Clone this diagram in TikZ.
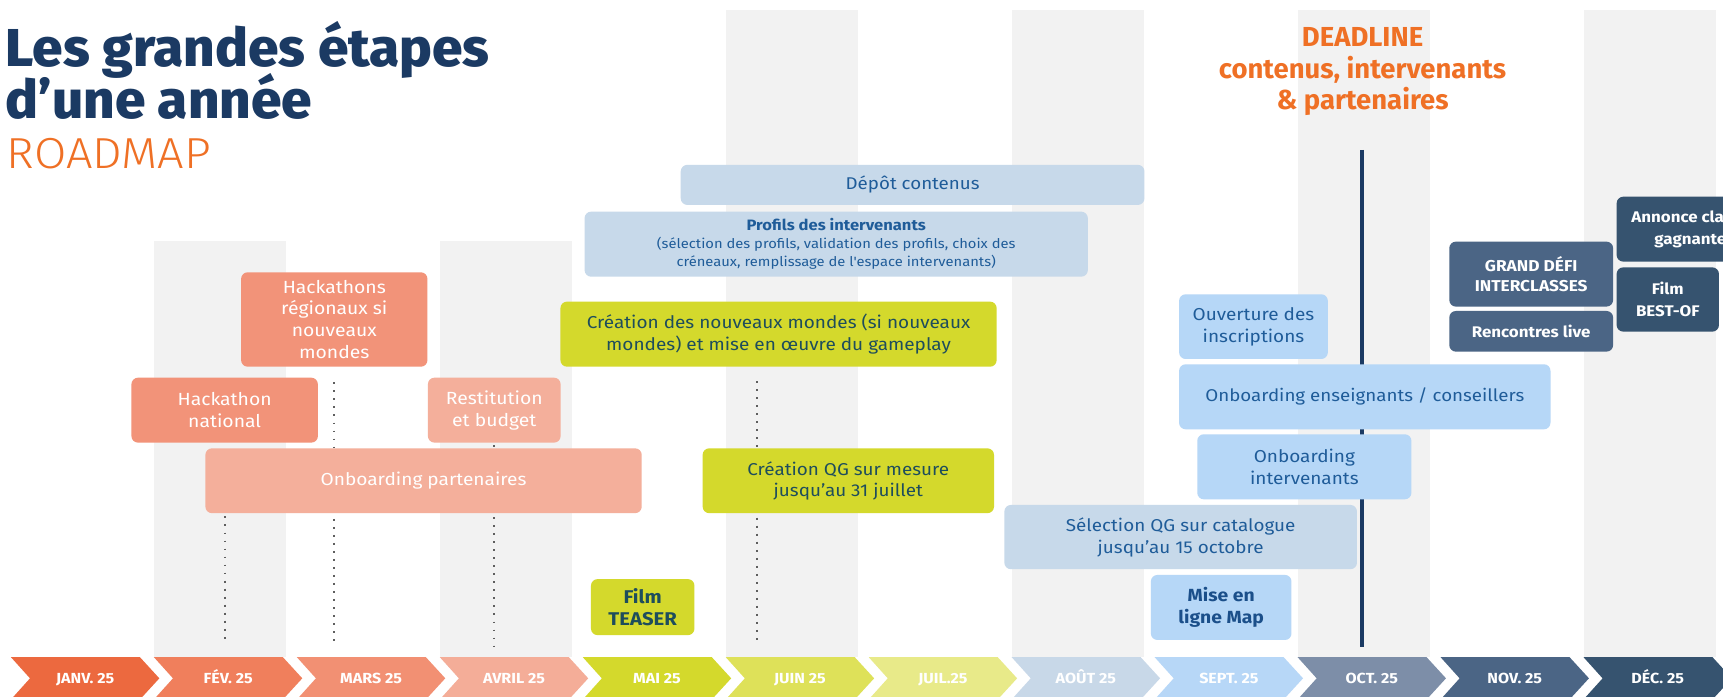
\documentclass[tikz,border=0pt]{standalone}
\usepackage{fontspec}
\setmainfont{Fira Sans}[FakeStretch=1.1]
\newfontfamily\plainsans{Fira Sans}
\newfontfamily\heavyfont{Fira Sans ExtraBold}[FakeStretch=1.03]
\newfontfamily\lightfont{Fira Sans Light}[FakeStretch=1.08]
\usetikzlibrary{backgrounds,calc}

\definecolor{navy}{HTML}{1B3A63}
\definecolor{orng}{HTML}{EF7025}
\definecolor{stripe}{HTML}{F2F2F2}
\definecolor{salmon}{HTML}{F29379}
\definecolor{lsalmon}{HTML}{F4AF9B}
\definecolor{lime}{HTML}{D4D92C}
\definecolor{grayblue}{HTML}{C7D9EA}
\definecolor{skyblue}{HTML}{B6D7F7}
\definecolor{slate}{HTML}{4B6585}
\definecolor{deepslate}{HTML}{36536F}
\definecolor{bluetext}{HTML}{1F5C99}
\definecolor{boldblue}{HTML}{1B4F8A}
\definecolor{tealtext}{HTML}{1E4D5C}
\definecolor{dotgray}{HTML}{5E5E5E}
\definecolor{mA}{HTML}{EC693F}
\definecolor{mB}{HTML}{F07F5C}
\definecolor{mC}{HTML}{F29073}
\definecolor{mD}{HTML}{F4AD98}
\definecolor{mE}{HTML}{D4D92C}
\definecolor{mF}{HTML}{DEE159}
\definecolor{mG}{HTML}{E8EA89}
\definecolor{mH}{HTML}{C8D8E8}
\definecolor{mI}{HTML}{B7D7F7}
\definecolor{mJ}{HTML}{7D8EA8}
\definecolor{mK}{HTML}{4B6585}
\definecolor{mL}{HTML}{36536F}

\newcommand\myfs[2]{\fontsize{#1}{#2}\selectfont}

\tikzset{
  box/.style={rectangle, rounded corners=6pt, inner sep=0pt, align=center},
  monthlabel/.style={inner sep=0pt, anchor=base, text=white, font=\bfseries\myfs{13.3}{15}},
  dots/.style={dotgray, line width=1.7pt, dash pattern=on 1.7pt off 5.6pt},
  deadlinebar/.style={navy, line width=3.3pt},
}

\begin{document}
\begin{tikzpicture}[x=1pt, y=-1pt]
\useasboundingbox (0,0) rectangle (1568,634);
\clip (0,0) rectangle (1568,634);

% titles
\node[anchor=base west, inner sep=0pt, text=navy, font=\heavyfont\myfs{48.5}{50}] (title1) at (5,60.7) {Les grandes étapes};
\node[anchor=base west, inner sep=0pt, text=navy, font=\heavyfont\myfs{48.5}{50}] (title2) at (5,107.7) {d’une année};
\node[anchor=base west, inner sep=0pt, text=orng, font=\lightfont\myfs{39.5}{42}] (roadmap) at (6,153) {ROADMAP};

\node[anchor=north, inner sep=0pt, align=center, text=orng, font=\plainsans\bfseries\myfs{25}{29}] (deadline) at (1240,24.5) {DEADLINE\\contenus, intervenants\\\& partenaires};

% months
\foreach \i/\col/\lab in {0/mA/JANV. 25, 1/mB/FÉV. 25, 2/mC/MARS 25, 3/mD/AVRIL 25, 4/mE/MAI 25, 5/mF/JUIN 25, 6/mG/JUIL.25, 7/mH/AOÛT 25, 8/mI/SEPT. 25, 9/mJ/OCT. 25, 10/mK/NOV. 25, 11/mL/DÉC. 25} {
  \pgfmathsetmacro\L{10+130.1*\i}
  \fill[\col] (\L,598.1) -- ++(117.4,0) -- ++(17.6,19.2) -- ++(-17.6,19.2) -- ++(-117.4,0) -- ++(17.3,-19.2) -- cycle;
  \node[monthlabel] (mon\i) at (\L+67.5,621.8) {\lab};
}

% boxes
\node[box, fill=grayblue, text=bluetext, minimum width=422pt, minimum height=36.5pt, font=\myfs{15.5}{19}] (depot) at (830.5,168.25) {Dépôt contenus};
\node[box, fill=grayblue, text=bluetext, minimum width=458pt, minimum height=59.2pt, font=\myfs{12.2}{16.5}] (profils) at (761,222.2) {{\bfseries\myfs{13.7}{16.5}Profils des intervenants}\\(sélection des profils, validation des profils, choix des\\créneaux, remplissage de l\textquotesingle espace intervenants)};

\node[box, fill=salmon, text=white, minimum width=169.6pt, minimum height=85.9pt, font=\myfs{16}{20}] (hackreg) at (304.2,290.75) {Hackathons\\régionaux si\\nouveaux\\mondes};
\node[box, fill=salmon, text=white, minimum width=169.7pt, minimum height=59.1pt, font=\myfs{16}{20}] (hacknat) at (204.45,373.25) {Hackathon\\national};
\node[box, fill=lsalmon, text=white, minimum width=120.8pt, minimum height=59.1pt, font=\myfs{16}{20}] (restit) at (449.8,373.25) {Restitution\\et budget};
\node[box, fill=lsalmon, text=white, minimum width=397.1pt, minimum height=59pt, font=\myfs{15.8}{20}] (onbpart) at (385.45,437.5) {Onboarding partenaires};

\node[box, fill=lime, text=tealtext, minimum width=397pt, minimum height=59.2pt, font=\myfs{15.7}{20}] (creamondes) at (708.5,304.1) {Création des nouveaux mondes (si nouveaux\\mondes) et mise en œuvre du gameplay};
\node[box, fill=lime, text=tealtext, minimum width=265.2pt, minimum height=59pt, font=\myfs{15.6}{19}] (creaqg) at (772,437.5) {Création QG sur mesure\\jusqu’au 31 juillet};
\node[box, fill=lime, text=tealtext, minimum width=94.2pt, minimum height=51pt, font=\bfseries\myfs{16.8}{20}] (teaser) at (584.9,552.5) {Film\\TEASER};

\node[box, fill=skyblue, text=bluetext, minimum width=135.4pt, minimum height=58.9pt, font=\myfs{15.7}{20.5}] (ouverture) at (1140.7,297.25) {Ouverture des\\inscriptions};
\node[box, fill=skyblue, text=bluetext, minimum width=338pt, minimum height=59.2pt, font=\myfs{15.5}{20}] (onbens) at (1242,361.1) {Onboarding enseignants / conseillers};
\node[box, fill=skyblue, text=bluetext, minimum width=194.9pt, minimum height=59.2pt, font=\myfs{15.7}{20.5}] (onbint) at (1187,424.8) {Onboarding\\intervenants};
\node[box, fill=grayblue, text=bluetext, minimum width=320.9pt, minimum height=58.5pt, font=\myfs{15.6}{20}] (selqg) at (1074.45,488.75) {Sélection QG sur catalogue\\jusqu’au 15 octobre};
\node[box, fill=skyblue, text=boldblue, minimum width=128pt, minimum height=59.2pt, font=\bfseries\myfs{16}{20.5}] (miseligne) at (1111.3,552.8) {Mise en\\ligne Map};

\node[box, fill=slate, text=white, minimum width=149.1pt, minimum height=59.1pt, font=\bfseries\myfs{14.3}{19}] (grandefi) at (1393.45,249.45) {GRAND DÉFI\\INTERCLASSES};
\node[box, fill=slate, text=white, minimum width=149.1pt, minimum height=37pt, font=\bfseries\myfs{14}{19}] (rencontres) at (1393.45,301.5) {Rencontres live};
\node[box, fill=deepslate, text=white, minimum width=141.6pt, minimum height=59.1pt, font=\bfseries\myfs{14}{20.5}] (annonce) at (1542,208.55) {Annonce classes\\gagnantes};
\node[box, fill=deepslate, text=white, minimum width=93.1pt, minimum height=58.5pt, font=\bfseries\myfs{14}{20}] (bestof) at (1517.75,272.55) {Film\\BEST-OF};

% connector coordinates
\coordinate (dlb) at (1239.2,588.5);
\coordinate (dlt) at (1239.2,136.5);
\coordinate (dAt) at (204.5,470);
\coordinate (dAb) at (204.5,585);
\coordinate (dBt) at (304.2,348);
\coordinate (dBb) at (304.2,588);
\coordinate (dCt) at (449.7,405);
\coordinate (dCb) at (449.7,588);
\coordinate (dDt) at (688.6,347);
\coordinate (dDb) at (688.6,587);

\begin{pgfonlayer}{background}
  \fill[white] (0,0) rectangle (1568,634);
  \foreach \i/\tp in {1/219.3, 3/219.3, 5/9.1, 7/9.1, 9/9.1, 11/9.1} {
    \fill[stripe] ({10+130.1*\i},\tp) rectangle ++(120.5,{598.1-\tp});
  }
  \draw[deadlinebar] (dlt) -- (dlb);
  \draw[dots] (dAt) -- (dAb);
  \draw[dots] (dBt) -- (dBb);
  \draw[dots] (dCt) -- (dCb);
  \draw[dots] (dDt) -- (dDb);
\end{pgfonlayer}
\end{tikzpicture}
\end{document}
